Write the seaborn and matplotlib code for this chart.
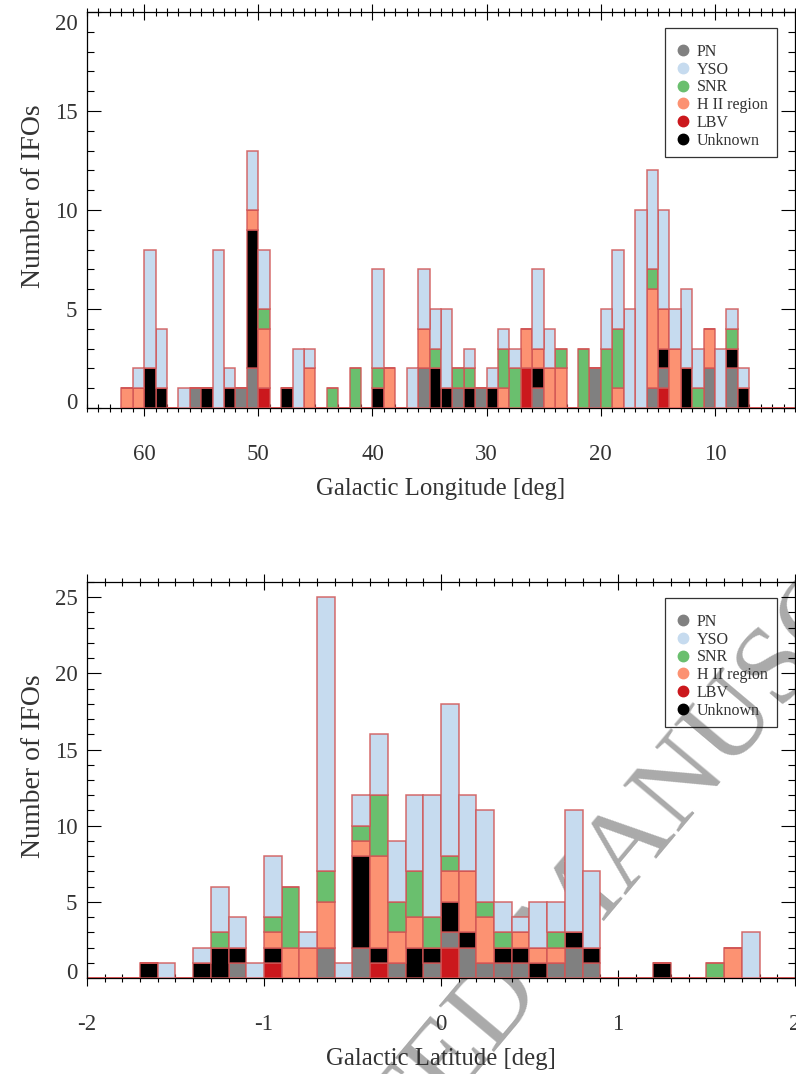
import matplotlib
matplotlib.use('Agg')
import matplotlib.pyplot as plt
import matplotlib.transforms as mtransforms
import seaborn as sns
import pandas as pd
import numpy as np
from matplotlib.lines import Line2D
from matplotlib.ticker import MultipleLocator

# legend order and colours
types = ['PN', 'YSO', 'SNR', 'H II region', 'LBV', 'Unknown']
colors = {'PN': '#808080', 'YSO': '#c6dbef', 'SNR': '#6abf6e',
          'H II region': '#fc9272', 'LBV': '#cb181d', 'Unknown': '#000000'}
# seaborn puts the first hue level on top of the stack
stack_order = ['YSO', 'SNR', 'H II region', 'Unknown', 'PN', 'LBV']

# ---- Galactic longitude, 1 deg bins, lower edges 61 ... 7
lon_lo = np.arange(61, 6, -1)
lon_pn = [0,0,0,0,0,0,1,0,0,0, 1,2,0,0,0,0,0,0,0,0, 0,0,0,0,0,0,2,0,0,1,
          0,1,0,0,0,0,1,0,0,0, 0,2,0,0,0,0,1,1,0,0, 0,2,0,2,0]
lon_yso = [0,1,6,3,0,1,0,0,8,1, 0,3,3,0,0,3,1,0,0,0, 0,0,5,0,0,2,3,2,4,0,
           1,0,1,1,1,0,4,2,0,0, 0,0,2,4,5,10,5,5,2,4, 2,0,3,1,1]
lon_snr = [0,0,0,0,0,0,0,0,0,0, 0,0,1,0,0,0,0,0,1,0, 2,0,1,0,0,0,0,1,0,1,
           1,0,0,2,2,0,0,0,1,0, 3,0,3,3,0,0,1,0,0,0, 1,0,0,1,0]
lon_hii = [1,1,0,0,0,0,0,0,0,0, 0,1,3,0,0,0,2,0,0,0, 0,0,0,2,0,0,2,0,0,0,
           0,0,0,1,0,2,1,2,2,0, 0,0,0,1,0,0,5,2,3,0, 0,2,0,0,0]
lon_lbv = [0,0,0,0,0,0,0,0,0,0, 0,0,1,0,0,0,0,0,0,0, 0,0,0,0,0,0,0,0,0,0,
           0,0,0,0,0,2,0,0,0,0, 0,0,0,0,0,0,0,1,0,0, 0,0,0,0,0]
lon_unk = [0,0,2,1,0,0,0,1,0,1, 0,7,0,0,1,0,0,0,0,0, 0,0,1,0,0,0,0,2,1,0,
           1,0,1,0,0,0,1,0,0,0, 0,0,0,0,0,0,0,1,0,2, 0,0,0,1,1]

# ---- Galactic latitude, 0.1 deg bins, lower edges -1.7 ... 1.7
lat_lo = np.round(np.arange(-1.7, 1.75, 0.1), 1)
lat_pn = [0,0,0,0,0,1,0,0,0,0, 2,0,2,0,1,0,1,1,2,1, 1,1,0,1,2,1,0,0,0,0, 0,0,0,0,0]
lat_yso = [0,1,0,1,3,2,1,4,0,1, 18,1,2,4,4,5,8,10,5,6, 2,1,3,2,8,5,0,0,0,0, 0,0,0,0,3]
lat_snr = [0,0,0,0,1,0,0,1,4,0, 2,0,1,4,2,3,2,1,0,1, 1,0,0,1,0,0,0,0,0,0, 0,0,1,0,0]
lat_hii = [0,0,0,0,0,0,0,1,2,2, 3,0,1,6,2,2,0,2,4,3, 0,1,1,1,0,0,0,0,0,0, 0,0,0,2,0]
lat_lbv = [0,0,0,0,0,0,0,1,0,0, 0,0,0,1,0,0,0,2,0,0, 0,0,0,0,0,0,0,0,0,0, 0,0,0,0,0]
lat_unk = [1,0,0,1,2,1,0,1,0,0, 0,0,6,1,0,2,1,2,1,0, 1,1,1,0,1,1,0,0,0,1, 0,0,0,0,0]


def long_table(lo, width, counts):
    rows = []
    for t, c in counts.items():
        for x, n in zip(lo, c):
            rows.append((float(x) + width / 2, t, n))
    return pd.DataFrame(rows, columns=['x', 'type', 'n'])


df_lon = long_table(lon_lo, 1.0, {'PN': lon_pn, 'YSO': lon_yso, 'SNR': lon_snr,
                                  'H II region': lon_hii, 'LBV': lon_lbv, 'Unknown': lon_unk})
df_lat = long_table(lat_lo, 0.1, {'PN': lat_pn, 'YSO': lat_yso, 'SNR': lat_snr,
                                  'H II region': lat_hii, 'LBV': lat_lbv, 'Unknown': lat_unk})

lon_edges = [float(v) for v in range(3, 63)]
lat_edges = [round(v / 10, 1) for v in range(-20, 21)]

sns.set_style('white')
plt.rcParams['font.family'] = ['Liberation Serif', 'DejaVu Serif']
plt.rcParams['axes.unicode_minus'] = False

txt = '#333333'
edge = (0.82, 0.33, 0.33, 0.85)

fig = plt.figure(figsize=(7.96, 10.74), dpi=100)
ax1 = fig.add_axes([0.1093, 0.6201, 0.8894, 0.3687])
ax2 = fig.add_axes([0.1093, 0.0894, 0.8894, 0.3687])

# journal watermark, sits behind the panels
fig.text(0.727, 0.152, 'ACCEPTED MANUSCRIPT', rotation=50, fontsize=80,
         color='#aaaaaa', ha='center', va='center', zorder=-5)

sns.histplot(data=df_lon, x='x', weights='n', hue='type', hue_order=stack_order,
             palette=colors, multiple='stack', bins=lon_edges,
             edgecolor=edge, linewidth=1.1, alpha=1, legend=False, ax=ax1)
sns.histplot(data=df_lat, x='x', weights='n', hue='type', hue_order=stack_order,
             palette=colors, multiple='stack', bins=lat_edges,
             edgecolor=edge, linewidth=1.1, alpha=1, legend=False, ax=ax2)

ax1.set_xlim(65, 3)
ax1.set_ylim(0, 20)
ax1.xaxis.set_major_locator(MultipleLocator(10))
ax1.xaxis.set_minor_locator(MultipleLocator(1))
ax1.set_xlabel('Galactic Longitude [deg]')

ax2.set_xlim(-2, 2)
ax2.set_ylim(0, 26)
ax2.xaxis.set_major_locator(MultipleLocator(1))
ax2.xaxis.set_minor_locator(MultipleLocator(0.1))
ax2.set_xlabel('Galactic Latitude [deg]')

handles = [Line2D([], [], ls='none', marker='o', ms=7.5, mfc=colors[t], mec=colors[t])
           for t in types]

for ax in (ax1, ax2):
    ax.set_facecolor('none')
    ax.set_axisbelow(True)
    ax.yaxis.set_major_locator(MultipleLocator(5))
    ax.yaxis.set_minor_locator(MultipleLocator(1))
    ax.tick_params(axis='x', which='both', direction='inout', top=True, bottom=True,
                   colors='black', labelcolor=txt, labelsize=16.5)
    ax.tick_params(axis='x', which='major', length=12, width=0.8, pad=20)
    ax.tick_params(axis='x', which='minor', length=6, width=0.8)
    ax.tick_params(axis='y', which='both', direction='in', left=True, right=True,
                   colors='black', labelcolor=txt, labelsize=16.5)
    ax.tick_params(axis='y', which='major', length=10, width=0.8, pad=7)
    ax.tick_params(axis='y', which='minor', length=5, width=0.8)
    for s in ax.spines.values():
        s.set_color('black')
        s.set_linewidth(0.9)
    ax.spines['bottom'].set_zorder(0.5)
    ax.set_ylabel('Number of IFOs', fontsize=20, color=txt)
    ax.yaxis.set_label_coords(-0.058, 0.535)
    ax.xaxis.label.set_fontsize(17.8)
    ax.xaxis.label.set_color(txt)
    ax.xaxis.labelpad = 9
    leg = ax.legend(handles, types, loc='upper right', bbox_to_anchor=(0.974, 0.959),
                    borderaxespad=0, frameon=True, fancybox=False, edgecolor='black',
                    facecolor='none', fontsize=11.5, labelspacing=0.11, handlelength=1.2,
                    handletextpad=0.27, borderpad=0.55, title=' ', title_fontsize=4)
    leg.get_frame().set_linewidth(0.9)
    for t in leg.get_texts():
        t.set_color(txt)


def nudge_ylabel(ax, value, dy_px):
    # end labels sit inside the axis range, as in the original plot
    for loc, tk in zip(ax.yaxis.get_majorticklocs(), ax.yaxis.get_major_ticks()):
        if abs(loc - value) < 1e-9:
            off = mtransforms.ScaledTranslation(0, dy_px / 100, fig.dpi_scale_trans)
            tk.label1.set_transform(tk.label1.get_transform() + off)


nudge_ylabel(ax1, 0, 7)
nudge_ylabel(ax1, 20, -9.5)
nudge_ylabel(ax2, 0, 7)

fig.savefig('out.png', dpi=100)
